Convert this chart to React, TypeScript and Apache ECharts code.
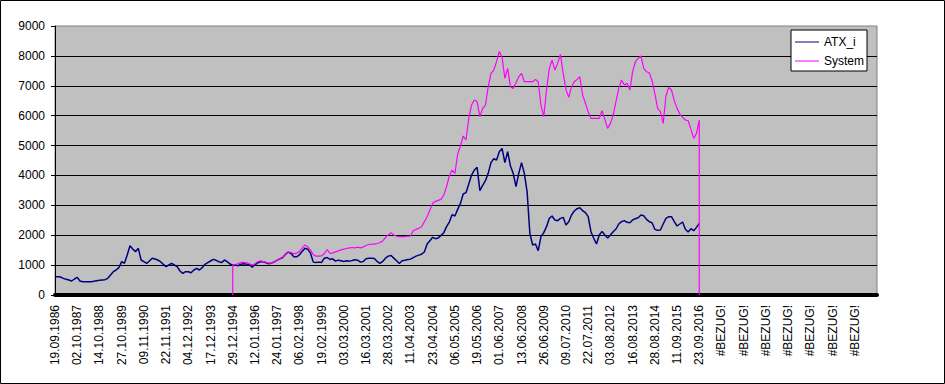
import React, { useEffect, useRef } from 'react';
import * as echarts from 'echarts';

// Tick labels of the category axis (one every 8 data points)
const tickLabels = [
  '19.09.1986', '02.10.1987', '14.10.1988', '27.10.1989', '09.11.1990', '22.11.1991',
  '04.12.1992', '17.12.1993', '29.12.1994', '12.01.1996', '24.01.1997', '06.02.1998',
  '19.02.1999', '03.03.2000', '16.03.2001', '28.03.2002', '11.04.2003', '23.04.2004',
  '06.05.2005', '19.05.2006', '01.06.2007', '13.06.2008', '26.06.2009', '09.07.2010',
  '22.07.2011', '03.08.2012', '16.08.2013', '28.08.2014', '11.09.2015', '23.09.2016',
  '#BEZUG!', '#BEZUG!', '#BEZUG!', '#BEZUG!', '#BEZUG!', '#BEZUG!', '#BEZUG!',
];
const pointsPerLabel = 8;

const atx = [
  613, 613, 602, 557, 524, 502, 468, 535, 591, 468,
  446, 446, 446, 446, 457, 480, 490, 502, 513, 557,
  669, 780, 836, 914, 1115, 1059, 1338, 1650, 1539, 1450,
  1561, 1171, 1115, 1059, 1137, 1227, 1204, 1171, 1115, 1026,
  948, 1004, 1059, 1004, 948, 803, 725, 780, 780, 747,
  836, 892, 836, 914, 1026, 1082, 1137, 1193, 1160, 1115,
  1082, 1171, 1115, 1037, 1004, 1004, 981, 1033, 1044, 1033,
  1011, 933, 1011, 1078, 1111, 1111, 1078, 1044, 1067, 1111,
  1166, 1211, 1255, 1366, 1433, 1388, 1277, 1277, 1344, 1455,
  1566, 1533, 1400, 1100, 1089, 1100, 1089, 1233, 1255, 1189,
  1211, 1133, 1166, 1144, 1122, 1144, 1133, 1155, 1178, 1166,
  1100, 1122, 1211, 1233, 1233, 1222, 1122, 1055, 1122, 1233,
  1300, 1322, 1233, 1144, 1055, 1144, 1166, 1189, 1200, 1250,
  1300, 1335, 1365, 1438, 1706, 1817, 1929, 1884, 1907, 1996,
  2085, 2286, 2442, 2687, 2643, 2866, 3066, 3378, 3423, 3713,
  4014, 4181, 4270, 3490, 3668, 3824, 4070, 4427, 4560, 4516,
  4795, 4906, 4427, 4795, 4315, 4070, 3624, 4070, 4427, 4070,
  3457, 2063, 1673, 1706, 1483, 1951, 2085, 2286, 2565, 2643,
  2509, 2487, 2565, 2598, 2342, 2453, 2676, 2810, 2888, 2921,
  2821, 2754, 2620, 2118, 1896, 1706, 2007, 2130, 2007, 1907,
  2007, 2118, 2208, 2375, 2453, 2487, 2431, 2420, 2509, 2553,
  2587, 2676, 2654, 2531, 2453, 2420, 2197, 2163, 2174, 2375,
  2565, 2620, 2620, 2453, 2308, 2375, 2442, 2197, 2107, 2219,
  2152, 2263, 2397,
];

// System series starts at data point 64 (29.12.1994)
const systemStart = 64;
const system = [
  1010, 1020, 1050, 1089, 1089, 1078,
  1044, 1000, 1044, 1111, 1144, 1122, 1089, 1067, 1067, 1111,
  1166, 1222, 1266, 1377, 1444, 1422, 1377, 1400, 1455, 1566,
  1677, 1611, 1511, 1344, 1300, 1300, 1311, 1388, 1522, 1388,
  1411, 1444, 1477, 1511, 1533, 1555, 1577, 1589, 1577, 1600,
  1577, 1611, 1655, 1689, 1700, 1700, 1722, 1755, 1810, 1922,
  2010, 2088, 2010, 1966, 1955, 1955, 1955, 1966, 1974, 2152,
  2197, 2230, 2286, 2453, 2620, 2843, 3066, 3133, 3167, 3200,
  3345, 3624, 3981, 4181, 4070, 4716, 4984, 5319, 5185, 5910,
  6355, 6523, 6467, 5965, 6244, 6355, 6969, 7415, 7526, 7805,
  8150, 7950, 7248, 7582, 6969, 6913, 7103, 7303, 7415, 7136,
  7136, 7136, 7136, 7214, 7136, 6356, 5965, 6857, 7582, 7861,
  7526, 7749, 8050, 7415, 6880, 6612, 6969, 7136, 7214, 7303,
  6690, 6411, 6133, 5910, 5910, 5910, 5910, 6166, 5876, 5575,
  5742, 6021, 6467, 6913, 7192, 7025, 7080, 6857, 7471, 7805,
  7917, 7995, 7582, 7471, 7437, 7170, 6746, 6244, 6133, 5742,
  6657, 6946, 6857, 6500, 6244, 6054, 5943, 5854, 5831, 5541,
  5240, 5408, 5854,
];

const FONT = 'Arial, "Liberation Sans", sans-serif';

export default function App() {
  const ref = useRef<HTMLDivElement>(null);
  useEffect(() => {
    const chart = echarts.init(ref.current!, null, { renderer: 'svg' });
    const n = tickLabels.length * pointsPerLabel + 1;
    const categories = Array.from({ length: n }, (_, i) => String(i));
    const systemEnd = systemStart + system.length - 1;
    const systemData: number[][] = [
      [systemStart, 0],
      ...system.map((v, k) => [systemStart + k, v]),
      [systemEnd, 0],
    ];
    chart.setOption({
      animation: false,
      backgroundColor: '#ffffff',
      textStyle: { fontFamily: FONT },
      grid: {
        left: 55, right: 68, top: 26, bottom: 89,
        show: true, backgroundColor: '#c0c0c0', borderColor: '#808080', borderWidth: 1,
      },
      legend: {
        orient: 'vertical', left: 791, top: 30,
        backgroundColor: '#ffffff', borderColor: '#000000', borderWidth: 1, borderRadius: 0,
        padding: [6, 3, 4, 4], itemGap: 7, itemWidth: 24, itemHeight: 1, icon: 'rect',
        textStyle: { fontSize: 12, color: '#000', fontFamily: FONT },
        data: ['ATX_i', 'System'],
      },
      xAxis: {
        type: 'category', data: categories, boundaryGap: false, offset: 2,
        axisLine: { show: true, lineStyle: { color: '#000', width: 4 } },
        axisTick: { show: false },
        splitLine: { show: false },
        axisLabel: {
          interval: pointsPerLabel - 1, rotate: 90, margin: 8, fontSize: 12, color: '#000', fontFamily: FONT,
          formatter: (_v: string, idx: number) => tickLabels[Math.round(idx / pointsPerLabel)] ?? '',
        },
      },
      yAxis: {
        type: 'value', min: 0, max: 9000, interval: 1000,
        axisLine: { show: true, lineStyle: { color: '#000', width: 1 } },
        axisTick: { show: true, length: 4, lineStyle: { color: '#000' } },
        axisLabel: {
          margin: 10, fontSize: 12, color: '#000', fontFamily: FONT,
          formatter: (v: number) => String(v),
        },
        splitLine: { show: true, showMaxLine: false, lineStyle: { color: '#000', width: 1 } },
      },
      series: [
        {
          name: 'ATX_i', type: 'line', data: atx, symbol: 'none',
          lineStyle: { color: '#000080', width: 1.5 }, itemStyle: { color: '#000080' },
        },
        {
          name: 'System', type: 'line', data: systemData, symbol: 'none',
          lineStyle: { color: '#ff00ff', width: 1.2 }, itemStyle: { color: '#ff00ff' },
        },
      ],
      graphic: [
        {
          type: 'rect', z: 100, silent: true,
          shape: { x: 0.5, y: 0.5, width: 944, height: 383 },
          style: { fill: 'none', stroke: '#000', lineWidth: 1 },
        },
      ],
    });
    return () => chart.dispose();
  }, []);
  return (
    <div
      ref={ref}
      style={{ position: 'fixed', left: 0, top: 0, width: 945, height: 384, background: '#fff' }}
    />
  );
}
